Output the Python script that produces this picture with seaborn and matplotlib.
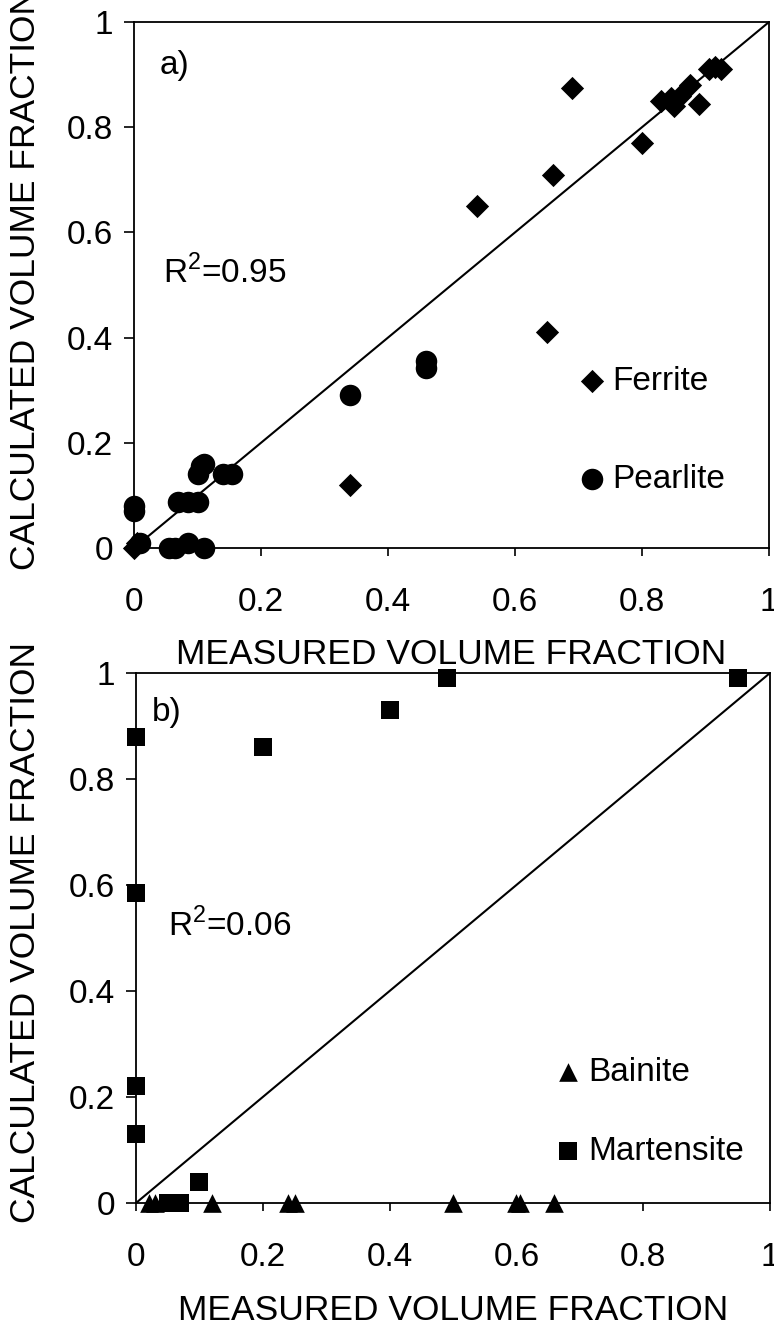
import matplotlib
matplotlib.use("Agg")
import matplotlib.pyplot as plt
import seaborn as sns

# --- data (measured vs calculated volume fraction) ---
ferrite_meas = [0.0, 0.005, 0.34, 0.54, 0.65, 0.66, 0.69, 0.80, 0.83, 0.845,
                0.85, 0.86, 0.875, 0.89, 0.905, 0.915, 0.925]
ferrite_calc = [0.0, 0.01, 0.12, 0.65, 0.41, 0.71, 0.875, 0.77, 0.85, 0.855,
                0.84, 0.86, 0.88, 0.845, 0.91, 0.915, 0.91]

pearlite_meas = [0.0, 0.0, 0.01, 0.055, 0.065, 0.085, 0.11, 0.07, 0.085, 0.10,
                 0.10, 0.105, 0.11, 0.14, 0.155, 0.34, 0.46, 0.46]
pearlite_calc = [0.07, 0.08, 0.01, 0.0, 0.0, 0.01, 0.0, 0.088, 0.088, 0.088,
                 0.14, 0.155, 0.16, 0.14, 0.14, 0.29, 0.342, 0.355]

bainite_meas = [0.02, 0.03, 0.12, 0.24, 0.25, 0.50, 0.60, 0.605, 0.66]
bainite_calc = [0.0, 0.0, 0.0, 0.0, 0.0, 0.0, 0.0, 0.0, 0.0]

martensite_meas = [0.0, 0.0, 0.0, 0.0, 0.05, 0.06, 0.07, 0.10, 0.20, 0.40, 0.49, 0.95]
martensite_calc = [0.88, 0.585, 0.22, 0.13, 0.0, 0.0, 0.0, 0.04, 0.86, 0.93, 0.99, 0.99]

ticks = [0, 0.2, 0.4, 0.6, 0.8, 1]
tick_labels = ["0", "0.2", "0.4", "0.6", "0.8", "1"]

sns.set_theme(style="ticks")
plt.rcParams["font.family"] = ["Liberation Sans", "DejaVu Sans"]
plt.rcParams["mathtext.fontset"] = "custom"
plt.rcParams["mathtext.rm"] = "Liberation Sans"
plt.rcParams["text.color"] = "black"

W, H = 774, 1331
fig = plt.figure(figsize=(W / 100, H / 100), dpi=100)
ax1 = fig.add_axes([134 / W, 1 - 548 / H, 635 / W, 526 / H])
ax2 = fig.add_axes([136 / W, 1 - 1203 / H, 634 / W, 530 / H])


def style_axes(ax, ylab_x):
    ax.set_xlim(0, 1)
    ax.set_ylim(0, 1)
    ax.set_xticks(ticks, tick_labels)
    ax.set_yticks(ticks, tick_labels)
    for sp in ax.spines.values():
        sp.set_visible(True)
        sp.set_color("black")
        sp.set_linewidth(1.3)
    ax.tick_params(axis="x", direction="out", length=6, width=1.2, pad=22,
                   labelsize=24, colors="black")
    ax.tick_params(axis="y", direction="out", length=7, width=1.2, pad=8,
                   labelsize=24, colors="black")
    ax.set_xlabel("MEASURED VOLUME FRACTION", fontsize=25.5, color="black")
    ax.set_ylabel("CALCULATED VOLUME FRACTION", fontsize=25.5, color="black")
    ax.xaxis.set_label_coords(0.5, -0.172)
    ax.yaxis.set_label_coords(ylab_x, 0.51)
    # 1:1 reference line
    ax.axline((0, 0), slope=1, color="black", lw=1.5, zorder=1)


# --- a) ferrite / pearlite ---
sns.scatterplot(x=ferrite_meas, y=ferrite_calc, marker="D", s=140, color="black",
                linewidth=0, label="Ferrite", ax=ax1, zorder=3, clip_on=False)
sns.scatterplot(x=pearlite_meas, y=pearlite_calc, marker="o", s=240, color="black",
                linewidth=0, label="Pearlite", ax=ax1, zorder=3, clip_on=False)
style_axes(ax1, -0.145)
ax1.text(0.04, 0.917, "a)", fontsize=24, va="center", transform=ax1.transAxes)
ax1.text(0.045, 0.523, r"R$^\mathregular{2}$=0.95", fontsize=24, va="center",
         transform=ax1.transAxes)
ax1.legend(loc="center left", bbox_to_anchor=(0.69, 0.224), frameon=False,
           fontsize=24, labelspacing=2.0, handletextpad=0.0, handlelength=1.2,
           borderpad=0, borderaxespad=0)

# --- b) bainite / martensite ---
sns.scatterplot(x=bainite_meas, y=bainite_calc, marker="^", s=180, color="black",
                linewidth=0, label="Bainite", ax=ax2, zorder=3, clip_on=False)
sns.scatterplot(x=martensite_meas, y=martensite_calc, marker="s", s=170, color="black",
                linewidth=0, label="Martensite", ax=ax2, zorder=3, clip_on=False)
style_axes(ax2, -0.148)
ax2.text(0.025, 0.926, "b)", fontsize=24, va="center", transform=ax2.transAxes)
ax2.text(0.05, 0.523, r"R$^\mathregular{2}$=0.06", fontsize=24, va="center",
         transform=ax2.transAxes)
ax2.legend(loc="center left", bbox_to_anchor=(0.65, 0.172), frameon=False,
           fontsize=24, labelspacing=1.45, handletextpad=0.0, handlelength=1.2,
           borderpad=0, borderaxespad=0)

fig.savefig("out.png", dpi=100)
